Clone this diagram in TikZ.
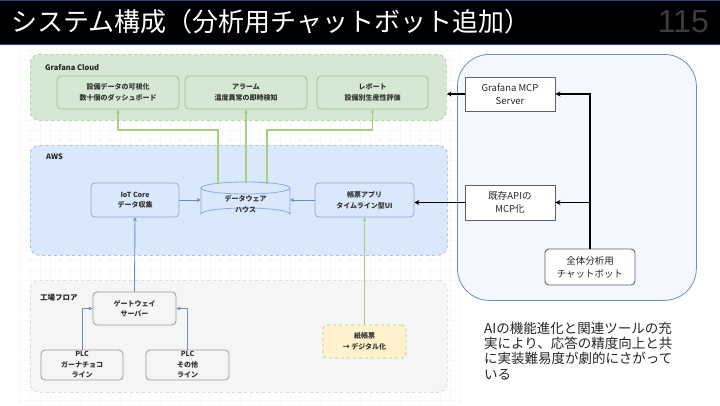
\documentclass[tikz,border=0pt]{standalone}
\usepackage{fontspec}
\setmainfont{Noto Sans CJK JP}
\newfontfamily\numfont{Liberation Sans}
\usetikzlibrary{arrows.meta}
\definecolor{titleblue}{HTML}{2F3F8F}
\definecolor{numgray}{HTML}{3C3C3C}
\definecolor{gcfill}{HTML}{D5E8D4}
\definecolor{gcdraw}{HTML}{9CC38A}
\definecolor{awsfill}{HTML}{DAE8FC}
\definecolor{awsdraw}{HTML}{8EA9D6}
\definecolor{flfill}{HTML}{F5F5F5}
\definecolor{fldraw}{HTML}{D0D0D0}
\definecolor{greenline}{HTML}{A7CF7C}
\definecolor{blueline}{HTML}{6C8EBF}
\definecolor{paperfill}{HTML}{FFF2CC}
\definecolor{rightfill}{HTML}{F4F8FE}
\definecolor{txt}{HTML}{333333}
\tikzset{
  container/.style={draw, dashed, rounded corners=9pt, line width=0.6pt, anchor=north west, inner sep=0pt},
  grpbox/.style={draw=gcdraw, fill=gcfill, rounded corners=4pt, line width=0.8pt, align=center,
    font=\fontsize{7}{10.5}\selectfont\bfseries, text=txt, inner sep=1pt},
  awsbox/.style={draw=awsdraw, fill=awsfill, rounded corners=4pt, line width=0.8pt, align=center,
    font=\fontsize{7}{10.5}\selectfont\bfseries, text=txt, inner sep=1pt},
  flbox/.style={draw=gray!80, fill=flfill, rounded corners=4pt, line width=0.8pt, align=center,
    font=\fontsize{7}{10.5}\selectfont\bfseries, text=txt, inner sep=1pt},
  mcpbox/.style={draw=gray!75!black, fill=white, line width=0.9pt, align=center,
    font=\fontsize{9.5}{13}\selectfont, text=black!85, inner sep=1pt, minimum width=90pt},
  grnarrow/.style={draw=greenline, line width=1.3pt, -{Stealth[length=4pt,width=4pt]}},
  bluarrow/.style={draw=blueline, line width=0.9pt, -{Stealth[length=4pt,width=4pt]}},
  blkarrow/.style={draw=black, line width=1.4pt, -{Stealth[length=5pt,width=5pt]}},
  grplabel/.style={anchor=west, font=\fontsize{7.5}{9}\selectfont\bfseries, text=black!85, inner sep=0pt}
}
\begin{document}
\begin{tikzpicture}[x=1pt,y=-1pt]
\useasboundingbox (0,0) rectangle (720,405);
\fill[white] (0,0) rectangle (720,405);
% faint grid
\draw[black!3, line width=0.3pt, step=10pt] (20,50) grid (460,405);
% title bar
\fill[black] (0,0) rectangle (720,45);
\draw[titleblue, line width=1.2pt] (0,0.8) -- (720,0.8);
\draw[titleblue, line width=1.2pt] (0,44.6) -- (720,44.6);
\node[anchor=west, text=white, font=\fontsize{26}{26}\selectfont, inner sep=0pt] (title) at (11,22) {システム構成（分析用チャットボット追加）};
\node[anchor=east, text=numgray, font=\fontsize{32}{32}\selectfont\numfont, inner sep=0pt] (pnum) at (709,22) {115};

% right container
\node[draw=blueline, fill=rightfill, line width=0.8pt, rounded corners=32pt, minimum width=239pt, minimum height=246pt, anchor=north west, inner sep=0pt] (chatarea) at (457,54) {};

% containers
\node[container, draw=gcdraw, fill=gcfill, minimum width=416pt, minimum height=66pt] (gcloud) at (30,54) {};
\node[grplabel] (gclabel) at (45,67) {Grafana Cloud};
\node[container, draw=awsdraw, fill=awsfill, minimum width=417pt, minimum height=110pt] (aws) at (30,145) {};
\node[grplabel] (awslabel) at (46,157) {AWS};
\node[container, draw=fldraw, fill=flfill, minimum width=417pt, minimum height=112pt] (floor) at (30,280) {};
\node[grplabel] (fllabel) at (40,298) {工場フロア};

% Grafana boxes
\node[grpbox, minimum width=122pt, minimum height=33pt] (g1) at (118,92.5) {設備データの可視化\\数十個のダッシュボード};
\node[grpbox, minimum width=122pt, minimum height=33pt] (g2) at (246,92.5) {アラーム\\温度異常の即時検知};
\node[grpbox, minimum width=111pt, minimum height=33pt] (g3) at (372.5,92.5) {レポート\\設備別生産性評価};

% AWS boxes
\node[awsbox, minimum width=88pt, minimum height=34pt] (iot) at (135,200) {IoT Core\\データ収集};
\node[awsbox, minimum width=99pt, minimum height=34pt] (ledger) at (364.5,200) {帳票アプリ\\タイムライン型UI};
% data warehouse cylinder
\fill[awsfill] (201,188) -- (201,214) arc[start angle=180, end angle=360, x radius=44.5pt, y radius=-6pt] -- (290,188) arc[start angle=0, end angle=180, x radius=44.5pt, y radius=-6pt] -- cycle;
\draw[awsdraw, line width=0.8pt] (201,188) -- (201,214) arc[start angle=180, end angle=360, x radius=44.5pt, y radius=-6pt] -- (290,188);
\draw[awsdraw, line width=0.8pt] (245.5,188) ellipse[x radius=44.5pt, y radius=6pt];
\node[minimum width=89pt, minimum height=38pt, inner sep=0pt, align=center, font=\fontsize{7}{10.5}\selectfont\bfseries, text=txt] (dwh) at (245.5,204) {データウェア\\ハウス};

% floor boxes
\node[flbox, minimum width=83pt, minimum height=33pt] (gw) at (134.5,308.5) {ゲートウェイ\\サーバー};
\node[flbox, minimum width=82pt, minimum height=30pt] (plc1) at (82,365) {PLC\\ガーナチョコ\\ライン};
\node[flbox, minimum width=83pt, minimum height=30pt] (plc2) at (187.5,365) {PLC\\その他\\ライン};
\node[draw=greenline, dashed, fill=paperfill, rounded corners=4pt, line width=0.7pt, align=center,
  font=\fontsize{7}{10.5}\selectfont\bfseries, text=txt, inner sep=1pt, minimum width=83pt, minimum height=33pt] (paper) at (364.5,341.5) {紙帳票\\→ デジタル化};

% right side boxes
\node[mcpbox, minimum height=34pt] (mcp) at (510,94) {Grafana MCP\\Server};
\node[mcpbox, minimum height=35pt] (api) at (510,202.5) {既存APIの\\MCP化};
\node[mcpbox, rounded corners=4pt, minimum height=36pt] (bot) at (590,267) {全体分析用\\チャットボット};

% connectors: floor -> AWS
\draw[bluarrow] (gw.north) -- (iot.south);
\draw[bluarrow] (plc1.north) |- (gw.west);
\draw[bluarrow] (plc2.north) |- (gw.east);
\draw[bluarrow] (iot.east) -- (dwh.west |- iot.east);
\draw[bluarrow] (ledger.west) -- (dwh.east |- ledger.west);
\draw[grnarrow] (paper.north) -- (ledger.south);
% AWS -> Grafana
\coordinate (d1) at (218,183.5);
\coordinate (d2) at (246,182.5);
\coordinate (d3) at (267,183.5);
\draw[grnarrow] (d1) -- ++(0,-53.5) -| (g1.south);
\draw[grnarrow] (d2) -- (g2.south);
\draw[grnarrow] (d3) -- ++(0,-53.5) -| (g3.south);
% chatbot
\draw[blkarrow] (bot.north) |- (mcp.east);
\draw[blkarrow] (bot.north |- api.east) -- (api.east);
\draw[blkarrow] (mcp.west) -- (gcloud.east |- mcp.west);
\draw[blkarrow] (api.west) -- (ledger.east |- api.west);

% note
\node[anchor=north west, align=left, inner sep=0pt, font=\fontsize{13.5}{15.2}\selectfont, text=black!85] (note) at (484,322)
 {AIの機能進化と関連ツールの充\\実により、応答の精度向上と共\\に実装難易度が劇的にさがって\\いる};
\end{tikzpicture}
\end{document}
